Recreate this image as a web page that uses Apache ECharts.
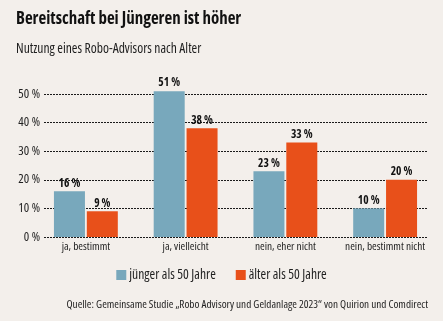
<!DOCTYPE html>
<html>
<head>
<meta charset="utf-8">
<script src="https://cdn.jsdelivr.net/npm/echarts@6/dist/echarts.min.js"></script>
<style>
  html, body { margin: 0; padding: 0; background: #f3efeb; }
  #chart { width: 443px; height: 321px; }
</style>
</head>
<body>
<div id="chart"></div>
<script>
// Answer categories and shares (in %) per age group
const categories = ['ja, bestimmt', 'ja, vielleicht', 'nein, eher nicht', 'nein, bestimmt nicht'];
const youngerValues = [16, 51, 23, 10];
const olderValues = [9, 38, 33, 20];
const seriesNames = ['jünger als 50 Jahre', 'älter als 50 Jahre'];
const yTicks = [0, 10, 20, 30, 40, 50];

// Open Sans is variable in width; the 'condensed' keyword lands in the canvas font shorthand
const FONT = '"Open Sans", sans-serif';
const NARROW = 'condensed';
const BLUE = '#78a8bc';
const ORANGE = '#e8501a';
const INK = '#1f1f1f';

const txt = (size, weight, extra) => Object.assign(
  { fontFamily: FONT, fontStyle: NARROW, fontSize: size, fontWeight: weight || 'normal', color: INK },
  extra || {}
);

const chart = echarts.init(document.getElementById('chart'));

const valueLabel = Object.assign(
  { show: true, position: 'top', distance: 2, formatter: p => p.value + ' %' },
  txt(11.5, 'bold', { color: '#111' })
);

chart.setOption({
  backgroundColor: '#f3efeb',
  title: [
    { text: 'Bereitschaft bei Jüngeren ist höher', left: 11, top: 6, textStyle: txt(16.9, 'bold', { color: '#111' }) },
    { text: 'Nutzung eines Robo-Advisors nach Alter', left: 11, top: 37, textStyle: txt(13.6) },
    {
      text: 'Quelle: Gemeinsame Studie „Robo Advisory und Geldanlage 2023“ von Quirion und Comdirect',
      right: 10, top: 294, textStyle: txt(11.2)
    }
  ],
  legend: {
    data: seriesNames,
    top: 263, left: 'center',
    itemWidth: 10, itemHeight: 10, itemGap: 20,
    icon: 'rect',
    textStyle: txt(13.6, 'normal', { padding: [0, 0, 0, -2] })
  },
  grid: [
    // bars and category labels
    { left: 36, right: 8, top: 94, bottom: 84 },
    // dotted value lines and percent labels
    { left: 44, right: 16, top: 94, bottom: 84 }
  ],
  xAxis: [
    {
      type: 'category', gridIndex: 0, data: categories,
      axisLine: { show: false }, axisTick: { show: false },
      axisLabel: txt(11.3, 'normal', { margin: 4, interval: 0 })
    },
    { type: 'value', gridIndex: 1, show: false, min: 0, max: 1 }
  ],
  yAxis: [
    { type: 'value', gridIndex: 0, min: 0, max: 50, interval: 10, show: false },
    {
      type: 'value', gridIndex: 1, min: 0, max: 50, interval: 10,
      axisLine: { show: false }, axisTick: { show: false },
      axisLabel: txt(12.8, 'normal', {
        margin: 4,
        formatter: v => (yTicks.includes(v) ? v + ' %' : '')
      }),
      splitLine: { lineStyle: { type: [2, 1], color: '#1a1a1a', width: 1 } }
    }
  ],
  series: [
    {
      name: seriesNames[0], type: 'bar', xAxisIndex: 0, yAxisIndex: 0,
      data: youngerValues, barWidth: 31, barGap: '6%', clip: false,
      itemStyle: { color: BLUE }, label: valueLabel
    },
    {
      name: seriesNames[1], type: 'bar', xAxisIndex: 0, yAxisIndex: 0,
      data: olderValues, barWidth: 31, barGap: '6%', clip: false,
      itemStyle: { color: ORANGE }, label: valueLabel
    }
  ]
});
</script>
</body>
</html>
